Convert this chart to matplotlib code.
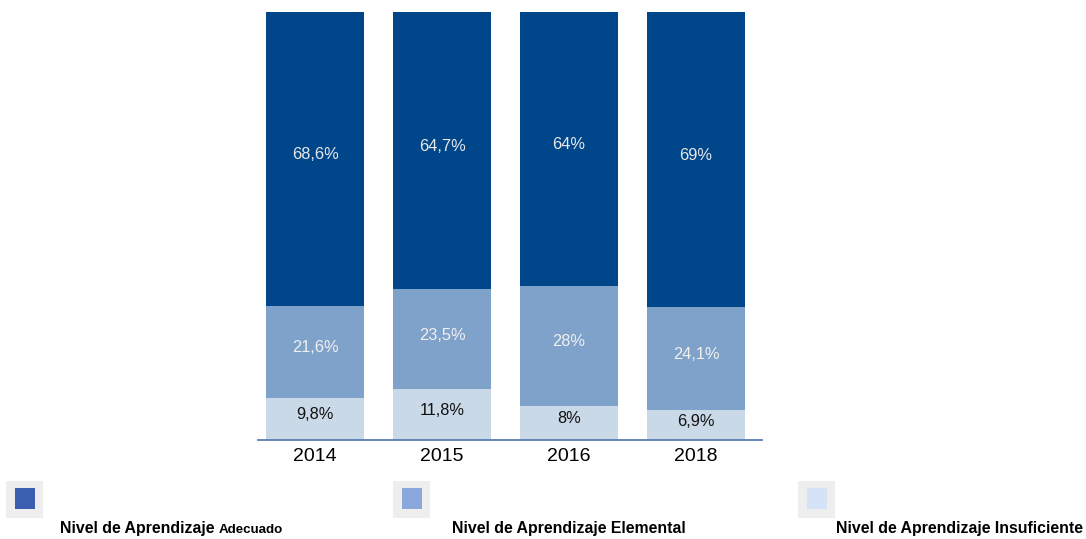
import matplotlib.pyplot as plt
from matplotlib.patches import Rectangle
import numpy as np

plt.rcParams['font.family'] = ['Liberation Sans', 'DejaVu Sans']

years = ['2014', '2015', '2016', '2018']
insuficiente = [9.8, 11.8, 8, 6.9]
elemental = [21.6, 23.5, 28, 24.1]
adecuado = [68.6, 64.7, 64, 69]

series = [
    (insuficiente, '#c9d9e8', '#111111'),
    (elemental, '#7fa2ca', '#f0f0f0'),
    (adecuado, '#00468b', '#e8e8e8'),
]


def fmt(v):
    s = ('%.1f' % v).rstrip('0').rstrip('.')
    return s.replace('.', ',') + '%'


fig = plt.figure(figsize=(10.86, 5.39), dpi=100)
ax = fig.add_axes([258 / 1086, 99 / 539, 504 / 1086, 428 / 539])

x = np.arange(len(years))
bottom = np.zeros(len(years))
for vals, color, tcolor in series:
    vals = np.array(vals, dtype=float)
    ax.bar(x, vals, bottom=bottom, width=0.77, color=color, linewidth=0)
    for xi, b, v in zip(x, bottom, vals):
        ax.annotate(fmt(v), (xi, b + v / 2), xytext=(0, 3), textcoords='offset points',
                    ha='center', va='center', fontsize=11.8, color=tcolor)
    bottom += vals

ax.set_xlim(-0.449, 3.52)
ax.set_ylim(0, 100)
ax.set_xticks(x)
ax.set_xticklabels(years, fontsize=14)
ax.tick_params(axis='x', length=0, pad=6)
ax.set_yticks([])
for s in ['top', 'right', 'left']:
    ax.spines[s].set_visible(False)
ax.spines['bottom'].set_color('#5b7db3')
ax.spines['bottom'].set_linewidth(1.3)

# legend
leg_main = ['Nivel de Aprendizaje', 'Nivel de Aprendizaje Elemental', 'Nivel de Aprendizaje Insuficiente']
leg_small = ['Adecuado', '', '']
leg_colors = ['#3a5fb0', '#8aa8db', '#d6e2f5']
box_x = [6, 393, 798]
text_x = [60, 452, 836]

W, H = 1086, 539
for bx, tx, main, small, c in zip(box_x, text_x, leg_main, leg_small, leg_colors):
    fig.patches.append(Rectangle((bx / W, (H - 518) / H), 37 / W, 37 / H,
                                 transform=fig.transFigure, color='#eeeeee', lw=0))
    fig.patches.append(Rectangle(((bx + 9) / W, (H - 509) / H), 20 / W, 21 / H,
                                 transform=fig.transFigure, color=c, lw=0))
    t = fig.text(tx / W, (H - 533) / H, main, fontsize=11.4, fontweight='bold',
                 va='baseline', ha='left')
    if small:
        fig.canvas.draw()
        bb = t.get_window_extent()
        fig.text((bb.x1 + 4) / W, (H - 533) / H, small, fontsize=9.6, fontweight='bold',
                 va='baseline', ha='left')

fig.savefig('out.png', dpi=100)
